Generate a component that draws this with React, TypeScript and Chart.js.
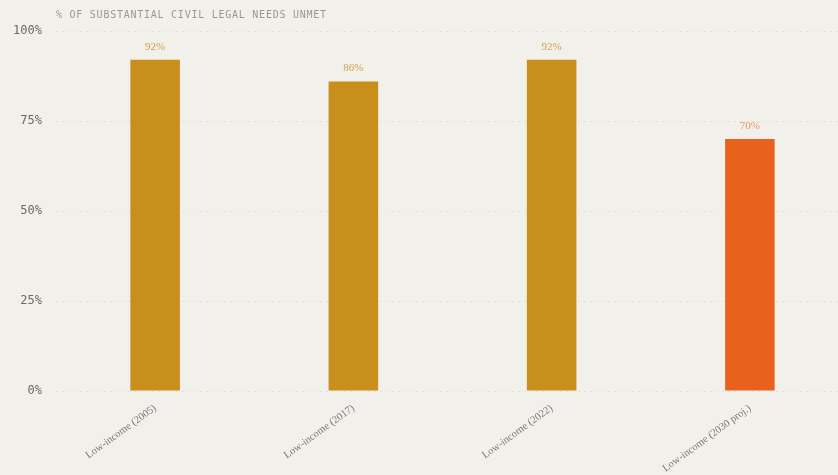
import React, { useEffect, useRef } from "react";
import { Chart, registerables } from "chart.js";

Chart.register(...registerables);

const categories = ["Low-income (2005)", "Low-income (2017)", "Low-income (2022)", "Low-income (2030 proj.)"];
const unmetPct = [92, 86, 92, 70];
const barColors = ["#c98f1c", "#c98f1c", "#c98f1c", "#e8621e"];
const labelColors = ["rgba(201,143,28,0.8)", "rgba(201,143,28,0.8)", "rgba(201,143,28,0.8)", "rgba(232,98,30,0.65)"];
const yTicks = [0, 25, 50, 75, 100];
const titleText = "% OF SUBSTANTIAL CIVIL LEGAL NEEDS UNMET";

const BG = "#f2f0eb";

const extras = {
  id: "extras",
  afterDatasetsDraw(chart: any) {
    const ctx = chart.ctx;
    const meta = chart.getDatasetMeta(0);
    ctx.save();
    ctx.font = "11px 'Liberation Serif', serif";
    ctx.textAlign = "center";
    ctx.textBaseline = "middle";
    meta.data.forEach((bar: any, i: number) => {
      ctx.fillStyle = labelColors[i];
      ctx.fillText(unmetPct[i] + "%", bar.x, bar.y - 13);
    });
    ctx.font = "10px 'DejaVu Sans Mono', monospace";
    (ctx as any).letterSpacing = "0.75px";
    ctx.fillStyle = "#9a9893";
    ctx.textAlign = "left";
    ctx.fillText(titleText, chart.chartArea.left, 14);
    ctx.restore();
  },
};

export default function App() {
  const ref = useRef<HTMLCanvasElement | null>(null);
  useEffect(() => {
    document.body.style.margin = "0";
    document.body.style.background = BG;
    document.body.style.overflow = "hidden";
    const chart = new Chart(ref.current!, {
      type: "bar",
      data: {
        labels: categories,
        datasets: [
          {
            data: unmetPct,
            backgroundColor: barColors,
            borderWidth: 0,
            barPercentage: 0.25,
            categoryPercentage: 1,
          },
        ],
      },
      options: {
        animation: false,
        responsive: false,
        layout: { padding: { top: 30, right: 0, left: 0, bottom: 0 } },
        plugins: { legend: { display: false }, tooltip: { enabled: false } },
        scales: {
          x: {
            grid: { display: false, drawTicks: false },
            border: { display: false },
            ticks: {
              minRotation: 36,
              maxRotation: 36,
              padding: 11,
              color: "#7a7873",
              font: { family: "'Liberation Serif', serif", size: 10.5 },
            },
            afterFit(scale: any) {
              scale.height = 85;
            },
          },
          y: {
            min: 0,
            max: 100,
            afterBuildTicks(scale: any) {
              scale.ticks = yTicks.map((v) => ({ value: v }));
            },
            grid: { color: "#e3e0d9", drawTicks: false, lineWidth: 1 },
            border: { display: false, dash: [2, 4] },
            ticks: {
              padding: 14,
              color: "#6b6964",
              font: { family: "'DejaVu Sans Mono', monospace", size: 12 },
              callback: (v: any) => v + "%",
            },
            afterFit(scale: any) {
              scale.width = 56;
            },
          },
        },
      },
      plugins: [extras],
    });
    return () => chart.destroy();
  }, []);
  return (
    <div style={{ position: "absolute", left: 0, top: 1, width: 849, height: 475, background: BG }}>
      <canvas ref={ref} width={849} height={475} style={{ display: "block" }} />
    </div>
  );
}
